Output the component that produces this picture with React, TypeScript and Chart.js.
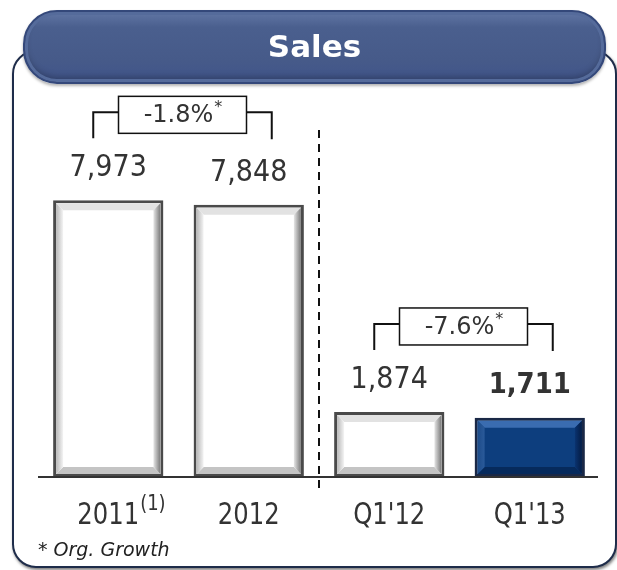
import React, { useEffect, useRef } from "react";
import { Chart, registerables } from "chart.js";

Chart.register(...registerables);

const title = "Sales";
const categories = ["2011", "2012", "Q1'12", "Q1'13"];
const categorySuperscripts = ["(1)", "", "", ""];
const salesValues = [7973, 7848, 1874, 1711];
const valueLabels = ["7,973", "7,848", "1,874", "1,711"];
const boldValue = [false, false, false, true];
const highlighted = [false, false, false, true];
const growthPairs = [
  [0, 1],
  [2, 3],
];
const growthLabels = ["-1.8%", "-7.6%"];
const growthMarks = ["*", "*"];
const footnote = "* Org. Growth";

const TEXT = "#333333";

function poly(ctx: CanvasRenderingContext2D, pts: number[][], fill: any) {
  ctx.beginPath();
  ctx.moveTo(pts[0][0], pts[0][1]);
  for (let i = 1; i < pts.length; i++) ctx.lineTo(pts[i][0], pts[i][1]);
  ctx.closePath();
  ctx.fillStyle = fill;
  ctx.fill();
}

function tallText(ctx: CanvasRenderingContext2D, s: string, x: number, y: number, sy: number) {
  ctx.save();
  ctx.translate(x, y);
  ctx.scale(1, sy);
  ctx.fillText(s, 0, 0);
  ctx.restore();
}

const decorPlugin = {
  id: "decor",
  afterDatasetsDraw(chart: any) {
    const ctx: CanvasRenderingContext2D = chart.ctx;
    const meta = chart.getDatasetMeta(0);
    const xs = chart.scales.x;
    const ys = chart.scales.y;
    const base = ys.getPixelForValue(0);
    ctx.save();

    // bevels
    meta.data.forEach((bar: any, i: number) => {
      const p = bar.getProps(["x", "y", "base", "width"], true);
      const b = 3;
      const d = 7;
      const L = p.x - p.width / 2 + b;
      const R = p.x + p.width / 2 - b;
      const T = p.y + b;
      const B = p.base - b;
      const blue = highlighted[i];
      const gl = ctx.createLinearGradient(L, 0, L + d, 0);
      gl.addColorStop(0, blue ? "#1d4c8a" : "#b8b8b8");
      gl.addColorStop(1, blue ? "#2a5a9a" : "#f4f4f4");
      const gr = ctx.createLinearGradient(R - d, 0, R, 0);
      gr.addColorStop(0, blue ? "#0a3370" : "#e6e6e6");
      gr.addColorStop(1, blue ? "#041c44" : "#7a7a7a");
      poly(ctx, [[L, T], [R, T], [R - d, T + d], [L + d, T + d]], blue ? "#3a6cb0" : "#e2e2e2");
      poly(ctx, [[L, B], [R, B], [R - d, B - d], [L + d, B - d]], blue ? "#062a5c" : "#c4c4c4");
      poly(ctx, [[L, T], [L + d, T + d], [L + d, B - d], [L, B]], gl);
      poly(ctx, [[R, T], [R, B], [R - d, B - d], [R - d, T + d]], gr);
    });

    // baseline
    ctx.strokeStyle = "#333";
    ctx.lineWidth = 2;
    ctx.beginPath();
    ctx.moveTo(chart.chartArea.left, base);
    ctx.lineTo(chart.chartArea.right - 2, base);
    ctx.stroke();

    // dashed separator
    const sepX = (xs.getPixelForValue(1) + xs.getPixelForValue(2)) / 2;
    ctx.setLineDash([8, 6]);
    ctx.strokeStyle = "#111";
    ctx.lineWidth = 2;
    ctx.beginPath();
    ctx.moveTo(sepX, chart.chartArea.top);
    ctx.lineTo(sepX, base + 16);
    ctx.stroke();
    ctx.setLineDash([]);

    // value labels
    ctx.textAlign = "center";
    ctx.textBaseline = "middle";
    meta.data.forEach((bar: any, i: number) => {
      ctx.font = (boldValue[i] ? "bold 26px" : "27px") + " 'DejaVu Sans'";
      ctx.fillStyle = TEXT;
      tallText(ctx, valueLabels[i], bar.x, bar.y - 32, 1.12);
    });

    // category labels
    categories.forEach((c, i) => {
      const x = xs.getPixelForValue(i);
      const y = base + 39;
      ctx.font = "27px 'DejaVu Sans Condensed'";
      ctx.fillStyle = TEXT;
      ctx.textAlign = "center";
      ctx.textBaseline = "middle";
      tallText(ctx, c, x, y, 1.1);
      if (categorySuperscripts[i]) {
        const w = ctx.measureText(c).width;
        ctx.font = "20px 'DejaVu Sans Condensed'";
        ctx.textAlign = "left";
        tallText(ctx, categorySuperscripts[i], x + w / 2 + 1, y - 12, 1.1);
      }
    });

    // growth brackets
    growthPairs.forEach((pair, k) => {
      const a = meta.data[pair[0]];
      const bb = meta.data[pair[1]];
      const xa = a.x - 15;
      const xb = bb.x + 23;
      const yl = Math.min(a.y, bb.y) - 88;
      const cx = (xa + xb) / 2;
      const bw = 128;
      const bh = 37;
      ctx.strokeStyle = "#111";
      ctx.lineWidth = 2;
      ctx.beginPath();
      ctx.moveTo(xa, yl + 26);
      ctx.lineTo(xa, yl);
      ctx.lineTo(xb, yl);
      ctx.lineTo(xb, yl + 27);
      ctx.stroke();
      ctx.fillStyle = "#fff";
      ctx.fillRect(cx - bw / 2, yl - 16, bw, bh);
      ctx.lineWidth = 1.5;
      ctx.strokeRect(cx - bw / 2, yl - 16, bw, bh);
      ctx.font = "24px 'DejaVu Sans'";
      const w1 = ctx.measureText(growthLabels[k]).width;
      ctx.font = "16px 'DejaVu Sans'";
      const w2 = ctx.measureText(growthMarks[k]).width;
      const sx = cx - (w1 + w2) / 2;
      const ty = yl - 16 + bh / 2 + 1;
      ctx.textAlign = "left";
      ctx.textBaseline = "middle";
      ctx.fillStyle = TEXT;
      ctx.font = "24px 'DejaVu Sans'";
      ctx.fillText(growthLabels[k], sx, ty);
      ctx.font = "16px 'DejaVu Sans'";
      ctx.fillText(growthMarks[k], sx + w1 + 1, ty - 8);
    });
    ctx.restore();
  },
};

export default function App() {
  const ref = useRef<HTMLCanvasElement>(null);
  useEffect(() => {
    if (!ref.current) return;
    const chart = new Chart(ref.current, {
      type: "bar",
      data: {
        labels: categories,
        datasets: [
          {
            data: salesValues,
            backgroundColor: highlighted.map((h) => (h ? "#0d3e7e" : "#ffffff")),
            borderColor: highlighted.map((h) => (h ? "#1a2846" : "#4a4a4a")),
            borderWidth: 3,
            borderSkipped: false,
            barPercentage: 0.785,
            categoryPercentage: 1,
          },
        ],
      },
      options: {
        responsive: false,
        animation: false,
        layout: { padding: { left: 38, right: 17, top: 130, bottom: 93 } },
        scales: {
          x: { display: false },
          y: { display: false, min: 0, max: 10000 },
        },
        plugins: { legend: { display: false }, tooltip: { enabled: false } },
      },
      plugins: [decorPlugin],
    });
    return () => chart.destroy();
  }, []);

  return (
    <div style={{ position: "absolute", left: 0, top: 0, width: 617, height: 570, overflow: "hidden", background: "#fff" }}>
      <div
        style={{
          position: "absolute",
          left: 12,
          top: 50,
          width: 605,
          height: 518,
          boxSizing: "border-box",
          border: "2px solid #1e2c4a",
          borderRadius: 24,
          background: "#fff",
          boxShadow: "1px 2px 3px rgba(0,0,0,0.5)",
        }}
      />
      <canvas ref={ref} width={617} height={570} style={{ position: "absolute", left: 0, top: 0, width: 617, height: 570 }} />
      <div
        style={{
          position: "absolute",
          left: 23,
          top: 10,
          width: 583,
          height: 74,
          boxSizing: "border-box",
          borderRadius: 34,
          border: "2px solid #34487a",
          background: "linear-gradient(#6176a4 0%, #4a5f8e 22%, #465a89 70%, #40548a 100%)",
          boxShadow: "inset 0 0 0 3px #556b9b, inset 0 -5px 6px rgba(0,0,0,0.25), 0 2px 3px rgba(0,0,0,0.3)",
          color: "#fff",
          fontFamily: "'DejaVu Sans', sans-serif",
          fontWeight: "bold",
          fontSize: 31,
          lineHeight: "68px",
          textAlign: "center",
        }}
      >
        {title}
      </div>
      <div
        style={{
          position: "absolute",
          left: 38,
          top: 538,
          fontFamily: "'DejaVu Sans', sans-serif",
          fontStyle: "italic",
          fontSize: 19,
          color: "#222",
        }}
      >
        {footnote}
      </div>
    </div>
  );
}
